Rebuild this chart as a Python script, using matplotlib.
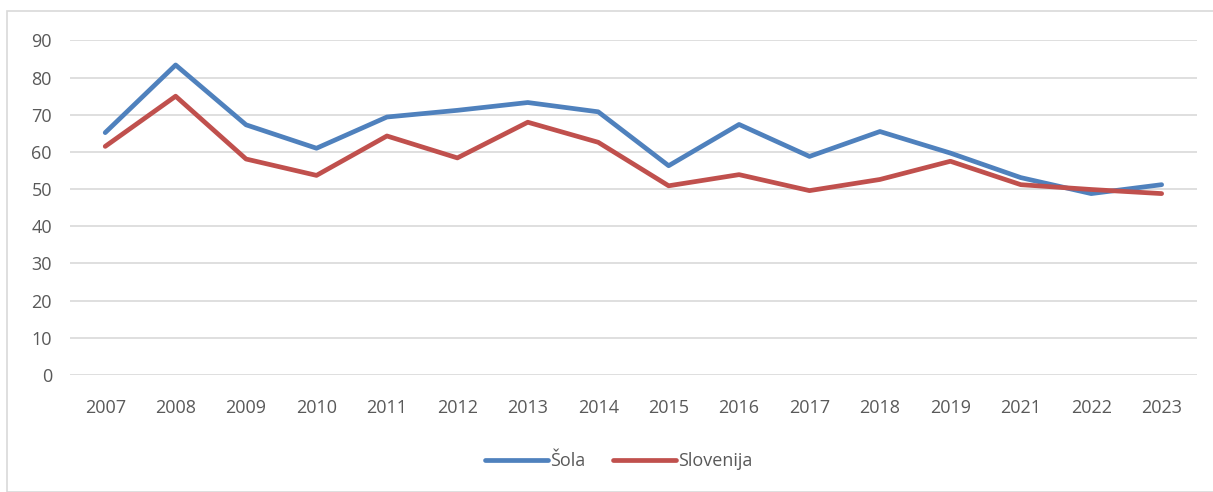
import matplotlib
matplotlib.use("Agg")
import matplotlib.pyplot as plt
from matplotlib.patches import Rectangle

years = ["2007", "2008", "2009", "2010", "2011", "2012", "2013", "2014",
         "2015", "2016", "2017", "2018", "2019", "2021", "2022", "2023"]
sola = [65.2, 83.4, 67.3, 61.0, 69.4, 71.2, 73.3, 70.8,
        56.3, 67.4, 58.8, 65.5, 59.7, 53.1, 48.8, 51.2]
slovenija = [61.5, 75.0, 58.1, 53.7, 64.3, 58.4, 68.0, 62.6,
             50.9, 53.9, 49.6, 52.6, 57.5, 51.2, 49.9, 48.8]

plt.rcParams['font.family'] = ['Open Sans', 'DejaVu Sans']

fig = plt.figure(figsize=(12.13, 4.92), dpi=100)
ax = fig.add_axes([0.0577, 0.2378, 0.929, 0.68])

# outer chart border
fig.patches.append(Rectangle((7 / 1213, 0), 1.0, 1 - 11 / 492, transform=fig.transFigure,
                             fill=False, edgecolor="#d9d9d9", linewidth=1.2))

x = range(len(years))
ax.plot(x, sola, color="#4f81bd", linewidth=3.4, label="Šola", solid_capstyle="round")
ax.plot(x, slovenija, color="#c0504d", linewidth=3.4, label="Slovenija", solid_capstyle="round")

ax.set_xlim(-0.5, len(years) - 0.5)
ax.set_ylim(0, 90)
ax.set_yticks(range(0, 91, 10))
ax.set_xticks(list(x))
ax.set_xticklabels(years)
ax.grid(axis="y", color="#d9d9d9", linewidth=1.2)
ax.set_axisbelow(True)
for s in ax.spines.values():
    s.set_visible(False)
ax.tick_params(length=0, labelsize=13, labelcolor="#595959")
ax.tick_params(axis="y", pad=13)
ax.tick_params(axis="x", pad=17)

fig.legend(loc="center", bbox_to_anchor=(0.51, 0.062), ncol=2, frameon=False,
           fontsize=13, labelcolor="#595959", handlelength=3.5, handletextpad=0.1,
           columnspacing=1.5)

fig.savefig("out.png", dpi=100)
